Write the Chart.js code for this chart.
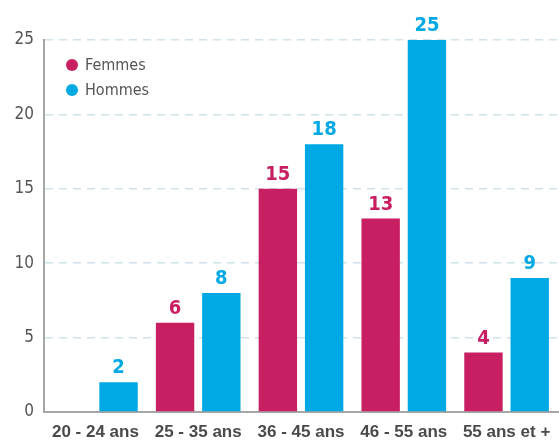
<!DOCTYPE html>
<html>
<head>
<meta charset="utf-8">
<script src="https://cdn.jsdelivr.net/npm/chart.js@4"></script>
<style>
  html, body { margin: 0; padding: 0; background: #fff; }
  .wrap { position: relative; width: 559px; height: 440px; }
  .legend { position: absolute; left: 66px; top: 54px; font: 16px "DejaVu Sans Condensed", sans-serif; color: #555; }
  .legend div { height: 25px; line-height: 22px; }
  .legend span { display: inline-block; width: 12px; height: 12px; border-radius: 50%; margin-right: 7px; vertical-align: -1px; }
</style>
</head>
<body>
<div class="wrap">
  <canvas id="c" width="559" height="440"></canvas>
  <div class="legend" id="legend"></div>
</div>
<script>
// age groups and headcounts
var CATEGORIES = ['20 - 24 ans', '25 - 35 ans', '36 - 45 ans', '46 - 55 ans', '55 ans et +'];
var FEMMES = [0, 6, 15, 13, 4];
var HOMMES = [2, 8, 18, 25, 9];
var Y_TICKS = [0, 5, 10, 15, 20, 25];

var PINK = '#c81f62';
var BLUE = '#00a9e3';

// legend
document.getElementById('legend').innerHTML =
  '<div><span style="background:' + PINK + '"></span>Femmes</div>' +
  '<div><span style="background:' + BLUE + '"></span>Hommes</div>';

var valueLabels = {
  id: 'valueLabels',
  afterDatasetsDraw: function (chart) {
    var ctx = chart.ctx;
    ctx.save();
    ctx.font = 'bold 20px "DejaVu Sans Condensed", sans-serif';
    ctx.textAlign = 'center';
    ctx.textBaseline = 'bottom';
    chart.data.datasets.forEach(function (ds, di) {
      var meta = chart.getDatasetMeta(di);
      meta.data.forEach(function (bar, i) {
        var v = ds.data[i];
        if (!v) return;
        ctx.fillStyle = ds.backgroundColor;
        ctx.fillText(String(v), bar.x, bar.y - 4);
      });
    });
    ctx.restore();
  }
};

new Chart(document.getElementById('c'), {
  type: 'bar',
  data: {
    labels: CATEGORIES,
    datasets: [
      { label: 'Femmes', data: FEMMES, backgroundColor: PINK, barPercentage: 0.83, categoryPercentage: 0.9 },
      { label: 'Hommes', data: HOMMES, backgroundColor: BLUE, barPercentage: 0.83, categoryPercentage: 0.9 }
    ]
  },
  options: {
    responsive: false,
    animation: false,
    layout: { padding: { top: 40, right: 1, left: 0, bottom: 0 } },
    plugins: { legend: { display: false }, tooltip: { enabled: false } },
    scales: {
      x: {
        grid: { display: false },
        border: { color: '#a6a6a6', width: 2 },
        ticks: {
          color: '#4a4a4a',
          font: { family: '"Liberation Sans Narrow", sans-serif', size: 17, weight: 'bold' },
          padding: 2
        },
        afterFit: function (s) { s.height = 28; }
      },
      y: {
        min: 0,
        max: 25,
        afterBuildTicks: function (s) { s.ticks = Y_TICKS.map(function (v) { return { value: v }; }); },
        grid: { color: '#d0e2eb', lineWidth: 1.5, drawTicks: false },
        border: { color: '#a6a6a6', width: 2, dash: [8, 6] },
        ticks: {
          color: '#555',
          font: { family: '"DejaVu Sans Condensed", sans-serif', size: 17 },
          padding: 10
        },
        afterFit: function (s) { s.width = 44; }
      }
    }
  },
  plugins: [valueLabels]
});
</script>
</body>
</html>
